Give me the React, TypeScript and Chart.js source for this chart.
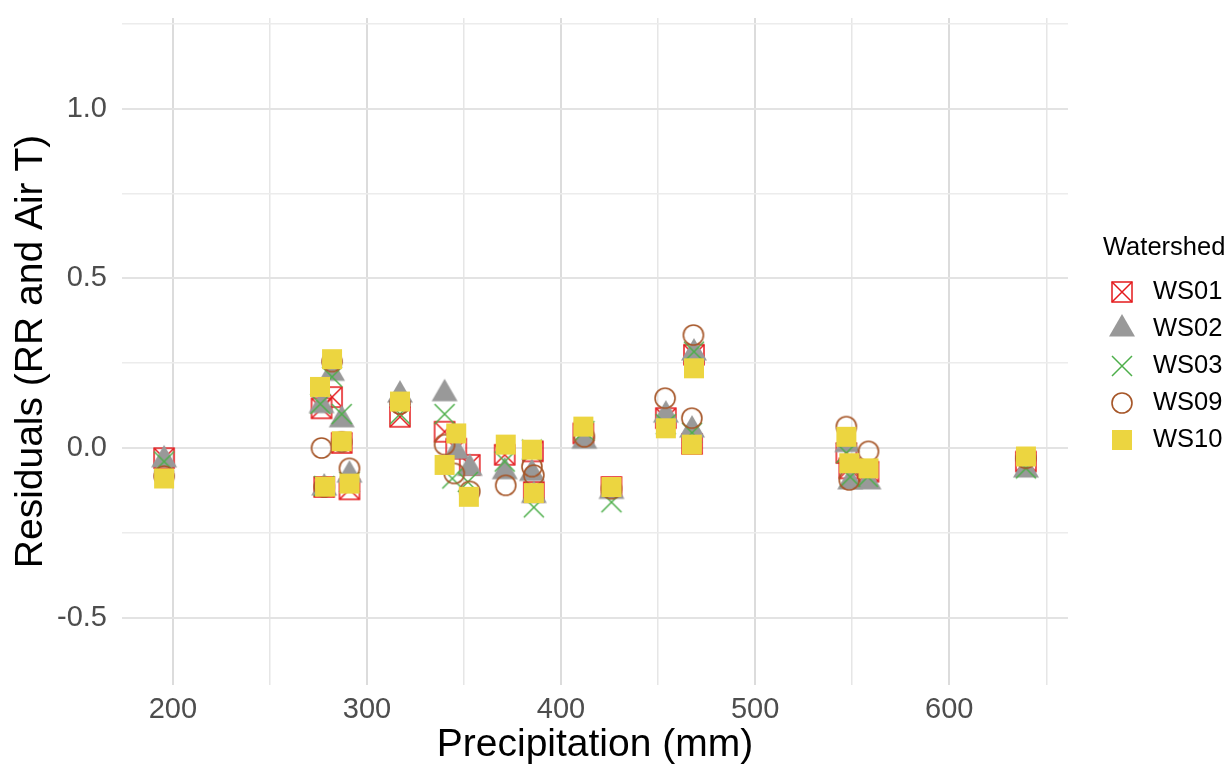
import React, { useEffect, useRef } from "react";
import { Chart, registerables } from "chart.js";

Chart.register(...registerables);

// Residuals of the RR ~ Air T model against annual precipitation, per watershed
const watersheds = ["WS01", "WS02", "WS03", "WS09", "WS10"];

const ws01Precip = [195.5, 282, 276.6, 287, 278, 291, 317, 340, 346, 353, 371, 385.5, 386, 411.5, 426, 454, 467.5, 468.5, 547, 548.5, 558.4, 639.5];
const ws01Resid = [-0.03, 0.15, 0.117, 0.015, -0.115, -0.122, 0.092, 0.048, -0.002, -0.05, -0.02, -0.01, -0.13, 0.043, -0.115, 0.088, 0.012, 0.275, -0.015, -0.06, -0.07, -0.04];

const ws02Precip = [195.5, 282, 276.6, 287, 278, 291, 317, 340, 346, 353, 371, 385, 386, 412, 426, 454, 467.5, 468.5, 547.5, 549, 558.4, 639.5];
const ws02Resid = [-0.035, 0.22, 0.125, 0.083, -0.118, -0.08, 0.156, 0.16, -0.01, -0.06, -0.07, -0.075, -0.14, 0.02, -0.128, 0.097, 0.053, 0.28, 0.01, -0.1, -0.1, -0.065];

const ws03Precip = [195.5, 282, 276, 287, 278, 291, 317, 340, 344, 352, 371, 385, 386, 412, 426, 454, 467.5, 468.5, 547, 549, 558, 639.5];
const ws03Resid = [-0.04, 0.21, 0.13, 0.1, -0.112, -0.1, 0.1, 0.1, -0.09, -0.1, -0.04, -0.005, -0.175, 0.05, -0.16, 0.07, 0.045, 0.284, -0.015, -0.085, -0.085, -0.06];

const ws09Precip = [195.5, 282, 276.6, 287, 278, 291, 317, 340, 345, 353, 371.5, 385, 386, 412, 426, 453.6, 467.4, 468.2, 547, 548.5, 558.4, 639.5];
const ws09Resid = [-0.083, 0.255, 0.0, 0.018, -0.115, -0.06, 0.13, 0.01, -0.075, -0.128, -0.11, -0.055, -0.08, 0.033, -0.12, 0.147, 0.088, 0.333, 0.063, -0.094, -0.01, -0.03];

const ws10Precip = [195.5, 282, 275.8, 287, 278.4, 291, 317, 340, 346, 352.5, 371.5, 385, 386, 411.5, 426, 454, 467.4, 468.5, 547, 548.5, 558.4, 639.5];
const ws10Resid = [-0.09, 0.262, 0.18, 0.02, -0.114, -0.105, 0.137, -0.05, 0.043, -0.144, 0.01, -0.005, -0.133, 0.063, -0.115, 0.058, 0.01, 0.235, 0.033, -0.045, -0.06, -0.025];

const xTicks = [200, 250, 300, 350, 400, 450, 500, 550, 600, 650];
const yTicks = [-0.5, -0.25, 0, 0.25, 0.5, 0.75, 1.0, 1.25];

const xTitle = "Precipitation (mm)";
const yTitle = "Residuals (RR and Air T)";
const legendTitle = "Watershed";

const FONT = "'Liberation Sans', Arial, sans-serif";

function makeMarker(draw: (ctx: CanvasRenderingContext2D) => void): HTMLCanvasElement {
  const c = document.createElement("canvas");
  c.width = 34;
  c.height = 34;
  const ctx = c.getContext("2d")!;
  ctx.translate(17, 17);
  draw(ctx);
  return c;
}

function buildMarkers(): HTMLCanvasElement[] {
  const squareCross = makeMarker((ctx) => {
    ctx.strokeStyle = "#E41A1C";
    ctx.lineWidth = 1.5;
    ctx.strokeRect(-10, -10, 20, 20);
    ctx.beginPath();
    ctx.moveTo(-10, -10);
    ctx.lineTo(10, 10);
    ctx.moveTo(10, -10);
    ctx.lineTo(-10, 10);
    ctx.stroke();
  });
  const triangle = makeMarker((ctx) => {
    ctx.fillStyle = "#999999";
    ctx.beginPath();
    ctx.moveTo(0, -15);
    ctx.lineTo(13, 7.5);
    ctx.lineTo(-13, 7.5);
    ctx.closePath();
    ctx.fill();
  });
  const cross = makeMarker((ctx) => {
    ctx.strokeStyle = "#4DAF4A";
    ctx.lineWidth = 1.5;
    ctx.beginPath();
    ctx.moveTo(-10, -10);
    ctx.lineTo(10, 10);
    ctx.moveTo(10, -10);
    ctx.lineTo(-10, 10);
    ctx.stroke();
  });
  const circle = makeMarker((ctx) => {
    ctx.strokeStyle = "#A65628";
    ctx.lineWidth = 1.6;
    ctx.beginPath();
    ctx.arc(0, 0, 10, 0, Math.PI * 2);
    ctx.stroke();
  });
  const square = makeMarker((ctx) => {
    ctx.fillStyle = "#ECD540";
    ctx.fillRect(-10, -10, 20, 20);
  });
  return [squareCross, triangle, cross, circle, square];
}

const toPoints = (xs: number[], ys: number[]) => xs.map((x, i) => ({ x, y: ys[i] }));

export default function App() {
  const canvasRef = useRef<HTMLCanvasElement | null>(null);

  useEffect(() => {
    const canvas = canvasRef.current;
    if (!canvas) return;
    const markers = buildMarkers();
    const series = [
      toPoints(ws01Precip, ws01Resid),
      toPoints(ws02Precip, ws02Resid),
      toPoints(ws03Precip, ws03Resid),
      toPoints(ws09Precip, ws09Resid),
      toPoints(ws10Precip, ws10Resid),
    ];

    const decorations = {
      id: "decorations",
      afterDraw(chart: Chart) {
        const ctx = chart.ctx;
        const area = chart.chartArea;
        ctx.save();
        ctx.fillStyle = "#000000";
        ctx.textAlign = "center";
        ctx.textBaseline = "middle";
        ctx.font = `39px ${FONT}`;
        ctx.fillText(xTitle, (area.left + area.right) / 2, 745);
        ctx.save();
        ctx.translate(31, (area.top + area.bottom) / 2);
        ctx.rotate(-Math.PI / 2);
        ctx.fillText(yTitle, 0, 0);
        ctx.restore();

        ctx.textAlign = "left";
        ctx.font = `25.5px ${FONT}`;
        ctx.fillText(legendTitle, 1103, 248);
        watersheds.forEach((name, i) => {
          const cy = 292 + i * 36.9;
          const m = markers[i];
          ctx.drawImage(m, Math.round(1122 - m.width / 2), Math.round(cy - m.height / 2));
          ctx.fillText(name, 1153, cy);
        });
        ctx.restore();
      },
    };

    const chart = new Chart(canvas, {
      type: "scatter",
      data: {
        datasets: watersheds.map((name, i) => ({
          label: name,
          data: series[i],
          pointStyle: markers[i],
          pointRadius: 10,
          pointHoverRadius: 10,
          showLine: false,
          order: watersheds.length - i,
        })),
      },
      options: {
        responsive: false,
        animation: false,
        events: [],
        layout: { padding: { top: 18, right: 163, left: 0, bottom: 0 } },
        plugins: {
          legend: { display: false },
          tooltip: { enabled: false },
        },
        scales: {
          x: {
            type: "linear",
            min: 173.8,
            max: 661.2,
            afterFit: (scale: any) => {
              scale.height = 82;
              scale.paddingLeft = 0;
              scale.paddingRight = 0;
            },
            afterBuildTicks: (scale: any) => {
              scale.ticks = xTicks.map((v) => ({ value: v }));
            },
            border: { display: false },
            grid: {
              drawTicks: false,
              color: (c: any) => (c.tick && c.tick.value % 100 === 0 ? "#DCDCDC" : "#E6E6E6"),
              lineWidth: (c: any) => (c.tick && c.tick.value % 100 === 0 ? 2 : 1.5),
            },
            ticks: {
              autoSkip: false,
              maxRotation: 0,
              padding: 8,
              color: "#4D4D4D",
              font: { family: FONT, size: 29 },
              callback: (v: any) => (Number(v) % 100 === 0 ? String(v) : ""),
            },
          },
          y: {
            type: "linear",
            min: -0.699,
            max: 1.268,
            afterFit: (scale: any) => {
              scale.width = 122;
              scale.paddingTop = 0;
              scale.paddingBottom = 0;
            },
            afterBuildTicks: (scale: any) => {
              scale.ticks = yTicks.map((v) => ({ value: v }));
            },
            border: { display: false },
            grid: {
              drawTicks: false,
              color: (c: any) =>
                c.tick && Math.abs((c.tick.value * 2) % 1) < 1e-9 ? "#E3E3E3" : "#ECECEC",
              lineWidth: (c: any) =>
                c.tick && Math.abs((c.tick.value * 2) % 1) < 1e-9 ? 2 : 1.5,
            },
            ticks: {
              autoSkip: false,
              padding: 15,
              color: "#4D4D4D",
              font: { family: FONT, size: 29 },
              callback: (v: any) => {
                const n = Number(v);
                return Math.abs((n * 2) % 1) < 1e-9 ? n.toFixed(1) : "";
              },
            },
          },
        },
      },
      plugins: [decorations],
    });

    return () => chart.destroy();
  }, []);

  return (
    <div style={{ position: "fixed", left: 0, top: 0, width: 1231, height: 767, background: "#ffffff" }}>
      <canvas ref={canvasRef} width={1231} height={767} style={{ display: "block" }} />
    </div>
  );
}
